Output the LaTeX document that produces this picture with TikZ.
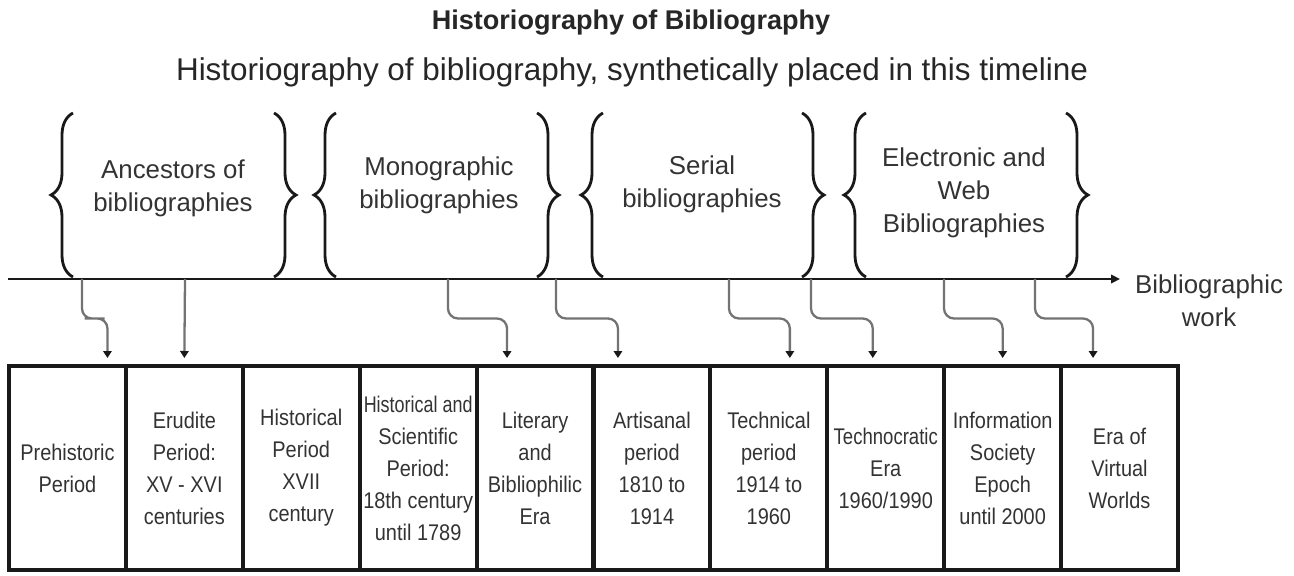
\documentclass[tikz,border=0pt]{standalone}
\usepackage{fontspec}
\usepackage{graphicx}
\setmainfont{Liberation Sans}
\newfontfamily\boxfont[FakeStretch=0.88]{Liberation Sans}
\usetikzlibrary{arrows.meta,calc,decorations.pathreplacing}

\tikzset{
  era/.style={draw=black!90, line width=2.3pt, minimum width=2.338cm, minimum height=4.08cm,
    inner sep=0pt, align=center, text=black!80, font=\boxfont\fontsize{12.9}{18.2}\selectfont},
  group/.style={align=center, text=black!80, font=\fontsize{14.7}{18.8}\selectfont},
  bracket/.style={decorate, decoration={brace, amplitude=0.44cm}, line width=1.6pt, draw=black!90},
  conn/.style={draw=black!55, line width=1.3pt, rounded corners=0.2cm,
    -{Triangle[length=0.14cm,width=0.17cm,color=black!90]}},
}

\begin{document}
\begin{tikzpicture}[x=0.02cm, y=0.02cm]
  \useasboundingbox (0,0) rectangle (1294,575);

  % headings
  \node[text=black!85] (title) at (631,552) {\fontsize{15.4}{18}\selectfont\bfseries Historiography of Bibliography};
  \node[text=black!85] (subtitle) at (632,503) {\fontsize{17.9}{21}\selectfont Historiography of bibliography, synthetically placed in this timeline};

  % the timeline
  \coordinate (t0) at (8,296);
  \coordinate (t1) at (1120,296);
  \draw[line width=1.7pt, black!90, -{Triangle[length=0.18cm,width=0.17cm]}] (t0) -- (t1);
  \node[group] (axis) at (1209,274) {Bibliographic\\work};

  % groups of bibliographies between braces
  \foreach \l/\r/\x/\y/\txt [count=\k] in {
      73/274/173/387/{Ancestors of\\bibliographies},
      336/537/439/390/{Monographic\\bibliographies},
      603/802/702/391/{Serial\\bibliographies},
      866/1066/964/382/{Electronic and\\Web\\Bibliographies}}
  {
    \draw[bracket] (\l,298) -- (\l,462);
    \draw[bracket] (\r,462) -- (\r,298);
    \node[group] (g\k) at (\x,\y) {\txt};
  }

  % the eras
  \foreach \txt [count=\i] in {
      {Prehistoric\\Period},
      {Erudite\\Period:\\XV - XVI\\centuries},
      {Historical\\Period\\XVII\\century},
      {\scalebox{0.9}[1]{Historical and}\\Scientific\\Period:\\18th century\\until 1789},
      {Literary\\and\\Bibliophilic\\Era},
      {Artisanal\\period\\1810 to\\1914},
      {Technical\\period\\1914 to\\1960},
      {\scalebox{0.93}[1]{Technocratic}\\Era\\1960/1990},
      {Information\\Society\\Epoch\\until 2000},
      {Era of\\Virtual\\Worlds}}
    \node[era] (b\i) at ({9+116.9*(\i-0.5)},107) {\txt};

  % arrows from the timeline down to the eras
  \coordinate (s2) at (185,296);
  \coordinate (e2) at ($(b2.north)+(0,6)$);
  \draw[conn] (s2) -- (e2);
  \foreach \s/\b/\d in {82/1/40, 448/5/-28, 556/6/-34, 729/7/21, 811/8/-13, 944/9/0, 1035/10/-26.5}
  {
    \coordinate (s\b) at (\s,296);
    \coordinate (e\b) at ($(b\b.north)+(\d,6)$);
    \draw[conn] (s\b) |- ($(s\b)!.5!(e\b)$) -| (e\b);
  }
\end{tikzpicture}
\end{document}
